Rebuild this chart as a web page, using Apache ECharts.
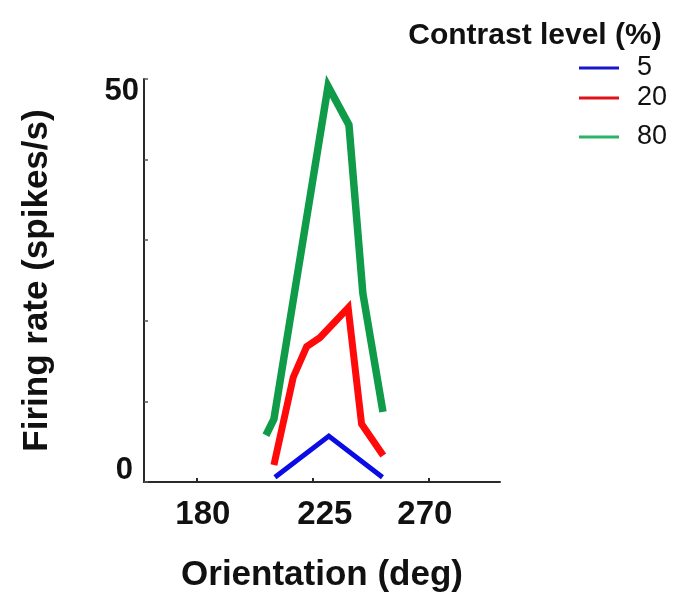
<!DOCTYPE html>
<html>
<head>
<meta charset="utf-8">
<script src="https://cdn.jsdelivr.net/npm/echarts@6/dist/echarts.min.js"></script>
<style>html,body{margin:0;padding:0;background:#fff}#c{width:676px;height:598px}</style>
</head>
<body>
<div id="c"></div>
<script>
// Orientation (deg) and firing rate (spikes/s)
const blueX = [210.3, 231.2, 252.0];
const blueY = [0.6, 5.7, 0.6];
const redX = [209.9, 217.4, 222.6, 227.7, 238.7, 243.9, 252.3];
const redY = [2.1, 13.0, 16.8, 17.9, 21.6, 7.2, 3.3];
const greenX = [206.8, 209.9, 230.9, 239.0, 244.4, 252.2];
const greenY = [5.8, 7.8, 49.1, 44.3, 23.4, 8.7];
const seriesNames = ['5', '20', '80'];
const xTicks = [180, 225, 270];
const yTicks = [0, 10, 20, 30, 40, 50];
const yLabelled = [0, 50];

const FF = "'Liberation Sans', Arial, Helvetica, sans-serif";
const pair = (xs, ys) => xs.map((x, i) => [x, ys[i]]);

const chart = echarts.init(document.getElementById('c'), null, {renderer: 'canvas'});
const lineColors = ['#0b0be6', '#ff0a0a', '#0f9b48'];
const legendColors = ['#1818c8', '#e0121c', '#2bb468'];
const legendTops = [53, 83, 122];

chart.setOption({
  animation: false,
  backgroundColor: '#ffffff',
  title: {
    text: 'Contrast level (%)',
    left: 530, top: 13, textAlign: 'center',
    textStyle: {fontFamily: FF, fontSize: 30, fontWeight: 'bold', color: '#111', lineHeight: 35}
  },
  legend: seriesNames.map((n, i) => ({
    data: [{name: n, itemStyle: {color: legendColors[i]}}],
    left: 579, top: legendTops[i], padding: 0,
    icon: 'rect', itemWidth: 40, itemHeight: 3,
    selectedMode: false,
    textStyle: {fontFamily: FF, fontSize: 27, color: '#111', lineHeight: 30, padding: [0, 0, 0, 13]}
  })),
  grid: {left: 144, top: 79, width: 356, height: 406, containLabel: false},
  xAxis: {
    type: 'value', min: 159.5, max: 297.6,
    name: 'Orientation (deg)', nameLocation: 'middle', nameGap: 76,
    nameTextStyle: {fontFamily: FF, fontSize: 35, fontWeight: 'bold', color: '#111'},
    axisLine: {show: true, lineStyle: {color: '#2a2a2a', width: 2}},
    axisTick: {show: true, inside: true, length: 4, customValues: xTicks, lineStyle: {color: '#2a2a2a', width: 2}},
    axisLabel: {
      customValues: xTicks, margin: 16,
      formatter: v => v === 180 ? '{a|180}' : v === 225 ? '{b|225}' : '{c|270}',
      rich: {
        a: {fontFamily: FF, fontSize: 33, fontWeight: 'bold', color: '#111', padding: [0, 0, 0, 12]},
        b: {fontFamily: FF, fontSize: 33, fontWeight: 'bold', color: '#111', padding: [0, 0, 0, 24]},
        c: {fontFamily: FF, fontSize: 33, fontWeight: 'bold', color: '#111', padding: [0, 8, 0, 0]}
      }
    },
    splitLine: {show: false}
  },
  yAxis: {
    type: 'value', min: 0, max: 50, interval: 10,
    name: 'Firing rate (spikes/s)', nameLocation: 'middle', nameGap: 89,
    nameTextStyle: {fontFamily: FF, fontSize: 35, fontWeight: 'bold', color: '#111'},
    axisLine: {show: true, lineStyle: {color: '#2a2a2a', width: 2}},
    axisTick: {show: true, inside: true, length: 4, lineStyle: {color: '#555', width: 1.5}},
    axisLabel: {
      margin: 5, showMinLabel: true, showMaxLabel: true,
      formatter: v => v === yLabelled[0] ? '{z|0}' : v === yLabelled[1] ? '{f|50}' : '',
      rich: {
        z: {fontFamily: FF, fontSize: 31, fontWeight: 'bold', color: '#111', padding: [0, 6, 24, 0]},
        f: {fontFamily: FF, fontSize: 31, fontWeight: 'bold', color: '#111', padding: [24, 0, 0, 0]}
      }
    },
    splitLine: {show: false}
  },
  series: [
    {name: seriesNames[0], type: 'line', data: pair(blueX, blueY), symbol: 'none',
     lineStyle: {color: lineColors[0], width: 5, cap: 'butt', join: 'miter'}, itemStyle: {color: lineColors[0]}},
    {name: seriesNames[1], type: 'line', data: pair(redX, redY), symbol: 'none',
     lineStyle: {color: lineColors[1], width: 7, cap: 'butt', join: 'miter'}, itemStyle: {color: lineColors[1]}},
    {name: seriesNames[2], type: 'line', data: pair(greenX, greenY), symbol: 'none',
     lineStyle: {color: lineColors[2], width: 7.5, cap: 'butt', join: 'miter'}, itemStyle: {color: lineColors[2]}}
  ]
});
</script>
</body>
</html>
